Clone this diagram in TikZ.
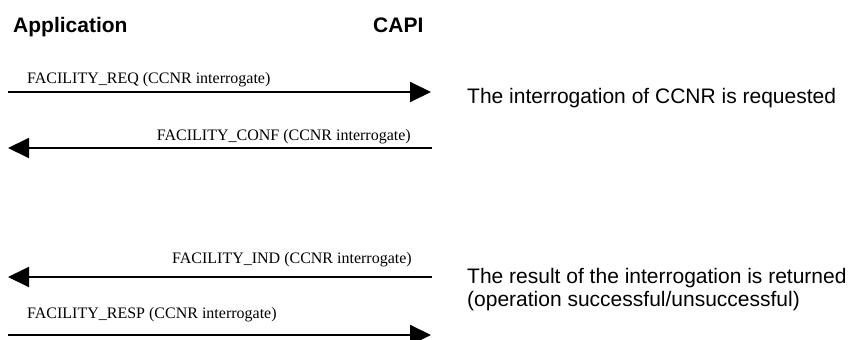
\documentclass[tikz,border=0pt]{standalone}
\usepackage{fontspec}
\setmainfont{Liberation Serif}
\setsansfont{Liberation Sans}
\usetikzlibrary{arrows.meta}

\begin{document}
\begin{tikzpicture}[x=1pt, y=-1pt,
        head/.style={font=\sffamily\bfseries\fontsize{21}{24}\selectfont, inner sep=0pt, anchor=base west},
        msg/.style={-{Triangle[length=21pt, width=20pt]}, line width=1.9pt},
        msglabel/.style={font=\fontsize{16}{18}\selectfont, inner sep=0pt},
        note/.style={font=\sffamily\fontsize{21}{23.5}\selectfont, inner sep=0pt, align=left}]
        \useasboundingbox (0,0) rectangle (857,340);
        % the two parties
        \node[head] (app) at (13,32) {Application};
        \node[head] (capi) at (373,32) {CAPI};
        % end points of the messages
        \coordinate (app1) at (8,92);   \coordinate (capi1) at (431,92);
        \coordinate (app2) at (8,148);  \coordinate (capi2) at (432,148);
        \coordinate (app3) at (8,277);  \coordinate (capi3) at (432,277);
        \coordinate (app4) at (8,335);  \coordinate (capi4) at (431,335);
        \draw[msg] (app1) -- (capi1);
        \draw[msg] (capi2) -- (app2);
        \draw[msg] (capi3) -- (app3);
        \draw[msg] (app4) -- (capi4);
        \node[msglabel, anchor=base west] (req) at (27,83) {FACILITY\_REQ (CCNR interrogate)};
        \node[msglabel, anchor=base east] (conf) at (411,140) {FACILITY\_CONF (CCNR interrogate)};
        \node[msglabel, anchor=base east] (ind) at (412,263) {FACILITY\_IND (CCNR interrogate)};
        \node[msglabel, anchor=base west] (resp) at (27,318) {FACILITY\_RESP (CCNR interrogate)};
        % comments on the right
        \node[note, anchor=base west] (asked) at (467,103) {The interrogation of CCNR is requested};
        \node[note, anchor=north west] (result) at (467,268) {The result of the interrogation is returned\\(operation successful/unsuccessful)};
    \end{tikzpicture}
\end{document}
